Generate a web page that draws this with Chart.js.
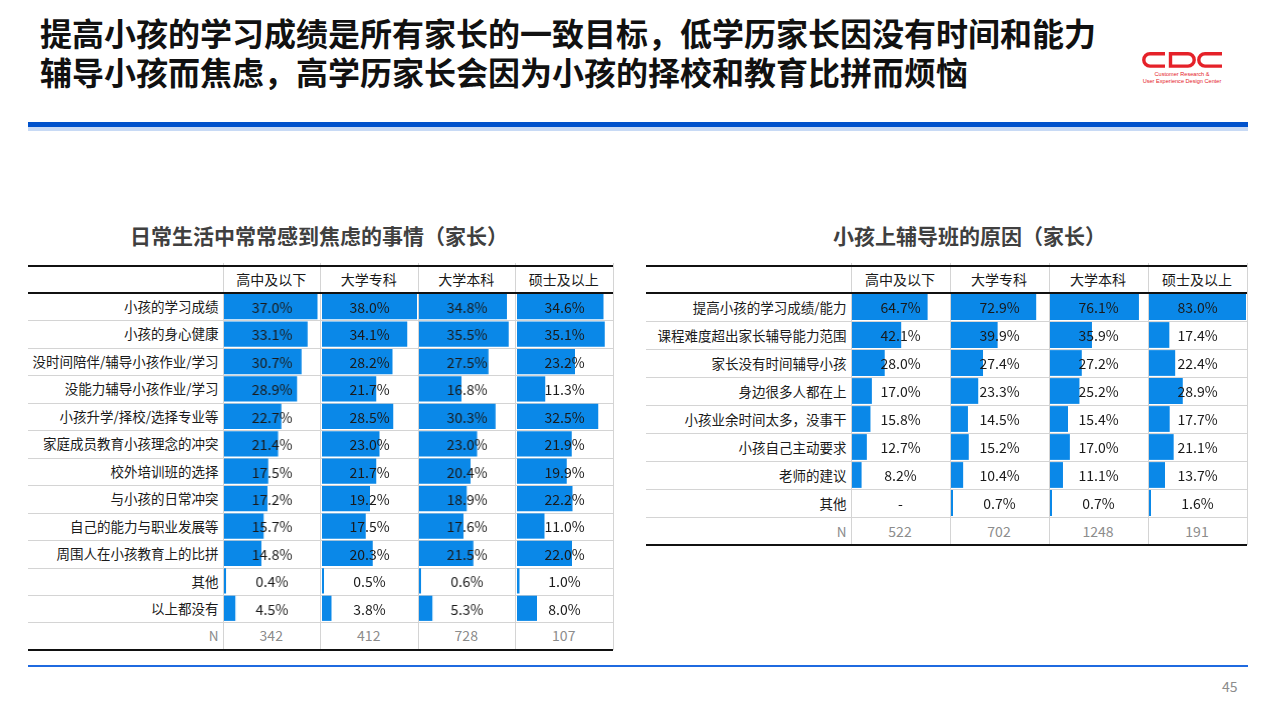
<!doctype html>
<html>
<head>
<meta charset="utf-8">
<title>家长焦虑与辅导班原因</title>
<script src="https://cdn.jsdelivr.net/npm/chart.js@4.4.0/dist/chart.umd.min.js"></script>
<style>
    body { margin: 0; width: 1280px; height: 720px; position: relative; overflow: hidden; background: #fff;
           font-family: "Noto Sans CJK SC", "Noto Sans", sans-serif; }
    .abs { position: absolute; }
    .title { left: 40px; top: 13px; font-size: 32px; font-weight: 700; line-height: 39px; color: #111; white-space: nowrap; }
    .sub { top: 221px; font-size: 21px; font-weight: 700; color: #404040; line-height: 28px; white-space: nowrap; }
    .cell { position: absolute; font-size: 13.5px; color: #1a1a1a; white-space: nowrap; }
    .hline { position: absolute; height: 1px; background: #d4d4d4; }
    .vline { position: absolute; width: 1px; background: #d4d4d4; }
    .thick { position: absolute; height: 2px; background: #111; }
</style>
</head>
<body>
<div class="abs title">提高小孩的学习成绩是所有家长的一致目标，低学历家长因没有时间和能力<br>辅导小孩而焦虑，高学历家长会因为小孩的择校和教育比拼而烦恼</div>

<svg class="abs" style="left:1138px;top:46px" width="90" height="42">
    <g fill="none" stroke="#e52129" stroke-width="3.4">
        <path d="M27,7.7 H12 A6.2,6.2 0 0 0 5.8,13.9 A6.2,6.2 0 0 0 12,20.1 H27"/>
        <path d="M32.5,7.7 H50 A6.2,6.2 0 0 1 56.2,13.9 A6.2,6.2 0 0 1 50,20.1 H32.5 Z"/>
        <path d="M84,7.7 H67 A6.2,6.2 0 0 0 60.8,13.9 A6.2,6.2 0 0 0 67,20.1 H84"/>
    </g>
    <text x="44" y="30" fill="#e52129" font-size="5.6" font-family="Liberation Sans" text-anchor="middle">Customer Research &amp;</text>
    <text x="44" y="37" fill="#e52129" font-size="5.6" font-family="Liberation Sans" text-anchor="middle">User Experience Design Center</text>
</svg>

<div class="abs" style="left:28px;top:122px;width:1220px;height:5px;background:#0052cc"></div>
<div class="abs" style="left:28px;top:127px;width:1220px;height:4px;background:#c8daf5"></div>

<div class="abs sub" style="left:130px">日常生活中常常感到焦虑的事情（家长）</div>
<div class="abs sub" style="left:833px">小孩上辅导班的原因（家长）</div>

<div class="abs" style="left:28px;top:665px;width:1220px;height:1.5px;background:#1f6ae0"></div>
<div class="abs" style="left:1222px;top:676px;font-size:14px;color:#8c8c8c">45</div>

<script>
    var groups = ['高中及以下', '大学专科', '大学本科', '硕士及以上'];

    // 日常生活中常常感到焦虑的事情（家长）
    var anxietyItems = ['小孩的学习成绩', '小孩的身心健康', '没时间陪伴/辅导小孩作业/学习', '没能力辅导小孩作业/学习',
        '小孩升学/择校/选择专业等', '家庭成员教育小孩理念的冲突', '校外培训班的选择', '与小孩的日常冲突',
        '自己的能力与职业发展等', '周围人在小孩教育上的比拼', '其他', '以上都没有'];
    var anxietyHigh     = [37.0, 33.1, 30.7, 28.9, 22.7, 21.4, 17.5, 17.2, 15.7, 14.8, 0.4, 4.5];
    var anxietyCollege  = [38.0, 34.1, 28.2, 21.7, 28.5, 23.0, 21.7, 19.2, 17.5, 20.3, 0.5, 3.8];
    var anxietyBachelor = [34.8, 35.5, 27.5, 16.8, 30.3, 23.0, 20.4, 18.9, 17.6, 21.5, 0.6, 5.3];
    var anxietyMaster   = [34.6, 35.1, 23.2, 11.3, 32.5, 21.9, 19.9, 22.2, 11.0, 22.0, 1.0, 8.0];
    var anxietyN = [342, 412, 728, 107];

    // 小孩上辅导班的原因（家长）
    var tutorItems = ['提高小孩的学习成绩/能力', '课程难度超出家长辅导能力范围', '家长没有时间辅导小孩', '身边很多人都在上',
        '小孩业余时间太多，没事干', '小孩自己主动要求', '老师的建议', '其他'];
    var tutorHigh     = [64.7, 42.1, 28.0, 17.0, 15.8, 12.7, 8.2, null];
    var tutorCollege  = [72.9, 39.9, 27.4, 23.3, 14.5, 15.2, 10.4, 0.7];
    var tutorBachelor = [76.1, 35.9, 27.2, 25.2, 15.4, 17.0, 11.1, 0.7];
    var tutorMaster   = [83.0, 17.4, 22.4, 28.9, 17.7, 21.1, 13.7, 1.6];
    var tutorN = [522, 702, 1248, 191];

    var BAR = '#0a88e8';

    var valueLabels = {
        id: 'valueLabels',
        afterDatasetsDraw: function(chart) {
            var ctx = chart.ctx;
            var data = chart.data.datasets[0].data;
            ctx.save();
            ctx.font = '14px "Noto Sans CJK SC"';
            ctx.fillStyle = '#1a1a1a';
            ctx.textAlign = 'center';
            ctx.textBaseline = 'middle';
            for (var i = 0; i < data.length; i++) {
                var txt = data[i] == null ? '-' : data[i].toFixed(1) + '%';
                ctx.fillText(txt, chart.width / 2, chart.scales.y.getPixelForValue(i) + 1);
            }
            ctx.restore();
        }
    };

    function addDiv(cls, css, text) {
        var d = document.createElement('div');
        d.className = cls;
        d.style.cssText = css;
        if (text != null) d.textContent = text;
        document.body.appendChild(d);
        return d;
    }

    function buildTable(t) {
        var rows = t.items.length + 1;
        var bodyTop = t.top + t.headH;
        var bottom = bodyTop + rows * t.rowH;
        var right = t.labelRight + 4 * t.colW;
        var width = right - t.x;
        var max = Math.max.apply(null, [].concat.apply([], t.series).filter(function(v) { return v != null; }));

        // grid
        for (var r = 1; r < rows; r++) {
            addDiv('hline', 'left:' + t.x + 'px;top:' + (bodyTop + r * t.rowH) + 'px;width:' + width + 'px');
        }
        for (var c = 0; c <= 4; c++) {
            addDiv('vline', 'left:' + (t.labelRight + c * t.colW) + 'px;top:' + (t.top - 3) + 'px;height:' + (bottom - t.top + 3) + 'px');
        }
        addDiv('thick', 'left:' + t.x + 'px;top:' + (t.top - 1) + 'px;width:' + width + 'px');
        addDiv('thick', 'left:' + t.x + 'px;top:' + (bodyTop - 1) + 'px;width:' + width + 'px');
        addDiv('thick', 'left:' + t.x + 'px;top:' + (bottom - 1) + 'px;width:' + width + 'px');

        // headers and N row
        groups.forEach(function(g, c) {
            var cx = t.labelRight + c * t.colW;
            addDiv('cell', 'left:' + cx + 'px;top:' + t.top + 'px;width:' + t.colW + 'px;line-height:' + t.headH + 'px;text-align:center;font-size:14px', g);
            addDiv('cell', 'left:' + cx + 'px;top:' + (bottom - t.rowH) + 'px;width:' + t.colW + 'px;line-height:' + t.rowH + 'px;text-align:center;color:#8c8c8c;font-size:14px', t.n[c]);
        });

        // row labels
        t.items.concat(['N']).forEach(function(label, r) {
            var grey = r === t.items.length ? 'color:#8c8c8c;' : '';
            addDiv('cell', grey + 'left:' + t.x + 'px;top:' + (bodyTop + r * t.rowH) + 'px;width:' + (t.labelRight - t.x - 4) + 'px;line-height:' + t.rowH + 'px;text-align:right', label);
        });

        // bars, one chart per column
        t.series.forEach(function(values, c) {
            var cv = document.createElement('canvas');
            var w = t.colW - 2, h = t.items.length * t.rowH;
            cv.width = w; cv.height = h;
            cv.style.cssText = 'position:absolute;left:' + (t.labelRight + c * t.colW + 1.5) + 'px;top:' + bodyTop + 'px;width:' + w + 'px;height:' + h + 'px';
            document.body.appendChild(cv);
            new Chart(cv, {
                type: 'bar',
                data: {
                    labels: t.items,
                    datasets: [{
                        data: values,
                        backgroundColor: BAR,
                        borderWidth: 0,
                        barPercentage: 0.92,
                        categoryPercentage: 1,
                        minBarLength: 2
                    }]
                },
                options: {
                    indexAxis: 'y',
                    responsive: false,
                    animation: false,
                    layout: { padding: 0 },
                    scales: {
                        x: { display: false, min: 0, max: max },
                        y: { display: false }
                    },
                    plugins: { legend: { display: false }, tooltip: { enabled: false } }
                },
                plugins: [valueLabels]
            });
        });
    }

    buildTable({
        x: 28, labelRight: 222.5, colW: 97.5, top: 266, headH: 27, rowH: 27.45,
        items: anxietyItems, n: anxietyN,
        series: [anxietyHigh, anxietyCollege, anxietyBachelor, anxietyMaster]
    });

    buildTable({
        x: 646, labelRight: 850.5, colW: 99, top: 266, headH: 27, rowH: 28,
        items: tutorItems, n: tutorN,
        series: [tutorHigh, tutorCollege, tutorBachelor, tutorMaster]
    });
</script>
</body>
</html>
